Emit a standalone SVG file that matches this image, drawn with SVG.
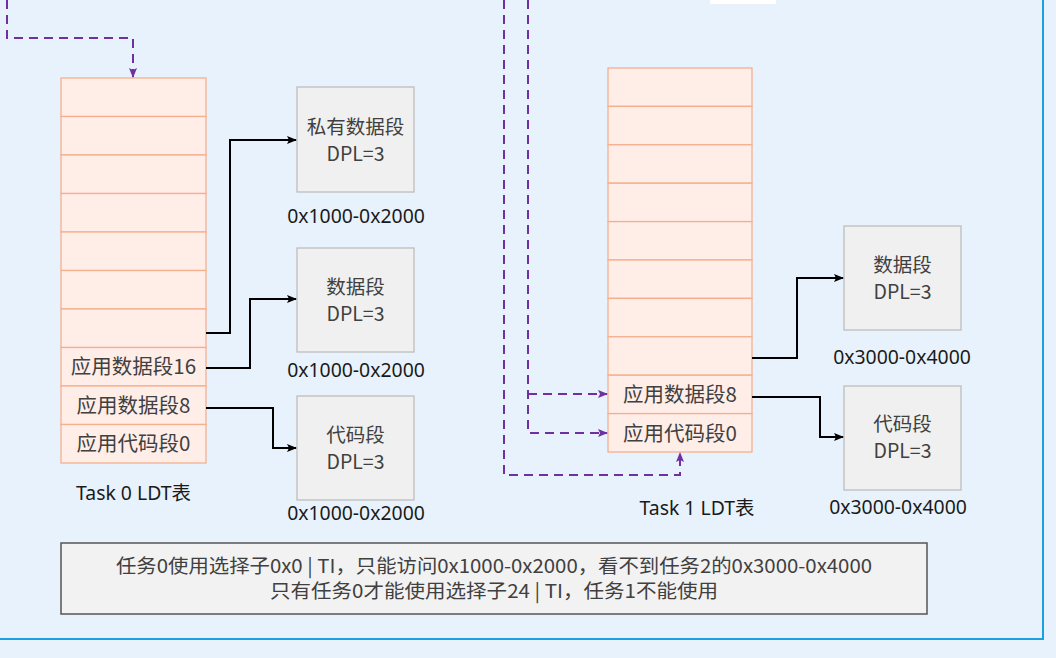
<svg xmlns="http://www.w3.org/2000/svg" width="1056" height="658" viewBox="0 0 1056 658">
<defs>
<style>
.cell{fill:#ffede8;stroke:#f4b08e;stroke-width:1.3}
.seg{fill:#f0f0f0;stroke:#bdbdbd;stroke-width:1.3}
.t{font-family:"Noto Sans CJK SC","Noto Sans",sans-serif;fill:#404040;text-anchor:middle}
.c20{font-size:20.5px}
.b20{font-size:19.5px}
.addr{font-family:"Noto Sans","Noto Sans CJK SC",sans-serif;font-size:19.4px;fill:#1a1a1a;text-anchor:middle}
.solid{fill:none;stroke:#000;stroke-width:2}
.dash{fill:none;stroke:#7030a0;stroke-width:2;stroke-dasharray:9 6}
</style>
<marker id="ab" viewBox="0 0 10 10" refX="9" refY="5" markerWidth="10" markerHeight="10" markerUnits="userSpaceOnUse" orient="auto"><path d="M0,1 L10,5 L0,9 L2,5 Z" fill="#000"/></marker>
<marker id="ap" viewBox="0 0 10 10" refX="9" refY="5" markerWidth="10" markerHeight="10" markerUnits="userSpaceOnUse" orient="auto"><path d="M0,1 L10,5 L0,9 L2,5 Z" fill="#7030a0"/></marker>
</defs>
<rect x="0" y="0" width="1056" height="658" fill="#e8f2fc"/>
<rect x="-10" y="-10" width="1053" height="649" fill="#e8f2fc" stroke="#1ba1e2" stroke-width="2"/>
<rect x="710" y="-2" width="66" height="6" fill="#ffffff"/>

<g id="task0-ldt">
<rect class="cell" x="61" y="78" width="145" height="38.5"/>
<rect class="cell" x="61" y="116.5" width="145" height="38.5"/>
<rect class="cell" x="61" y="155" width="145" height="38.5"/>
<rect class="cell" x="61" y="193.5" width="145" height="38.5"/>
<rect class="cell" x="61" y="232" width="145" height="38.5"/>
<rect class="cell" x="61" y="270.5" width="145" height="38.5"/>
<rect class="cell" x="61" y="309" width="145" height="38.5"/>
<rect class="cell" x="61" y="347.5" width="145" height="38.5"/>
<rect class="cell" x="61" y="386" width="145" height="38.5"/>
<rect class="cell" x="61" y="424.5" width="145" height="38.5"/>
<text class="t c20" x="133.5" y="374">应用数据段16</text>
<text class="t c20" x="133.5" y="413">应用数据段8</text>
<text class="t c20" x="133.5" y="451">应用代码段0</text>
<text class="addr" x="133.5" y="500">Task 0 LDT表</text>
</g>

<g id="task1-ldt">
<rect class="cell" x="608" y="68" width="144" height="38.4"/>
<rect class="cell" x="608" y="106.4" width="144" height="38.4"/>
<rect class="cell" x="608" y="144.8" width="144" height="38.4"/>
<rect class="cell" x="608" y="183.2" width="144" height="38.4"/>
<rect class="cell" x="608" y="221.6" width="144" height="38.4"/>
<rect class="cell" x="608" y="260" width="144" height="38.4"/>
<rect class="cell" x="608" y="298.4" width="144" height="38.4"/>
<rect class="cell" x="608" y="336.8" width="144" height="38.4"/>
<rect class="cell" x="608" y="375.2" width="144" height="38.4"/>
<rect class="cell" x="608" y="413.6" width="144" height="38.4"/>
<text class="t c20" x="680" y="402">应用数据段8</text>
<text class="t c20" x="680" y="441">应用代码段0</text>
<text class="addr" x="697" y="515">Task 1 LDT表</text>
</g>

<g id="seg-private">
<rect class="seg" x="297" y="87" width="117" height="105"/>
<text class="t b20" x="355.5" y="134">私有数据段</text>
<text class="t b20" x="355.5" y="161">DPL=3</text>
<text class="addr" x="356" y="223">0x1000-0x2000</text>
</g>
<g id="seg-data0">
<rect class="seg" x="297" y="248" width="117" height="104"/>
<text class="t b20" x="355.5" y="294">数据段</text>
<text class="t b20" x="355.5" y="321">DPL=3</text>
<text class="addr" x="356" y="377">0x1000-0x2000</text>
</g>
<g id="seg-code0">
<rect class="seg" x="297" y="396" width="117" height="104"/>
<text class="t b20" x="355.5" y="442">代码段</text>
<text class="t b20" x="355.5" y="469">DPL=3</text>
<text class="addr" x="356" y="520">0x1000-0x2000</text>
</g>
<g id="seg-data1">
<rect class="seg" x="844" y="226" width="117" height="104"/>
<text class="t b20" x="902.5" y="272">数据段</text>
<text class="t b20" x="902.5" y="299">DPL=3</text>
<text class="addr" x="902" y="364">0x3000-0x4000</text>
</g>
<g id="seg-code1">
<rect class="seg" x="844" y="386" width="117" height="104"/>
<text class="t b20" x="902.5" y="431">代码段</text>
<text class="t b20" x="902.5" y="458">DPL=3</text>
<text class="addr" x="898" y="514">0x3000-0x4000</text>
</g>

<g id="note">
<rect x="61" y="543" width="866" height="71" fill="#f2f2f2" stroke="#555" stroke-width="1.5"/>
<text class="t" x="494" y="573" font-size="19" textLength="756" lengthAdjust="spacingAndGlyphs">任务0使用选择子0x0 | TI，只能访问0x1000-0x2000，看不到任务2的0x3000-0x4000</text>
<text class="t" x="494" y="598" font-size="19" textLength="448" lengthAdjust="spacingAndGlyphs">只有任务0才能使用选择子24 | TI，任务1不能使用</text>
</g>

<g id="connectors">
<path class="solid" d="M206,333 H230 V140 H296" marker-end="url(#ab)"/>
<path class="solid" d="M206,368 H250 V299 H296" marker-end="url(#ab)"/>
<path class="solid" d="M206,408 H273 V448 H296" marker-end="url(#ab)"/>
<path class="solid" d="M752,358 H797 V278 H843" marker-end="url(#ab)"/>
<path class="solid" d="M752,397 H820 V437 H843" marker-end="url(#ab)"/>
<path class="dash" d="M7,0 V38 H133 V77" marker-end="url(#ap)"/>
<path class="dash" d="M504,0 V475 H680 V453" marker-end="url(#ap)"/>
<path class="dash" d="M528,0 V433 H607" marker-end="url(#ap)"/>
<path class="dash" d="M528,394 H607" marker-end="url(#ap)"/>
</g>
</svg>
